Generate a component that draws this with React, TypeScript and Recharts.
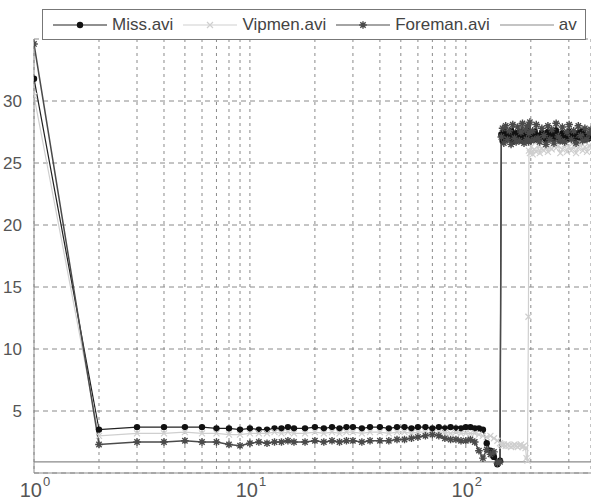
import React from "react";
import { CartesianGrid, Line, LineChart, XAxis, YAxis } from "recharts";

// frame index (log x axis)
const FRAMES = [
  1, 2, 3, 4, 5, 6, 7, 8, 9, 10, 11, 12, 13, 14, 15, 16,
  18, 20, 22, 24, 26, 28, 30,
  33, 36, 40, 44, 48, 52, 56, 60,
  65, 70, 75, 80, 85, 90, 95, 100,
  105, 110, 115, 120, 125, 130, 135, 140, 144,
  146, 148, 150, 153, 156, 159, 162, 165, 168, 171,
  174, 177, 180, 183, 186, 189, 191, 193, 195, 196,
  198, 201, 204, 208, 212, 216, 220, 225, 230, 235,
  240, 245, 250, 256, 262, 268, 274, 280, 287, 294,
  301, 308, 316, 324, 332, 340, 348, 356, 364, 372, 380,
];

const MISS = [
  31.8, 3.5, 3.7, 3.7, 3.7, 3.7, 3.6, 3.6, 3.5, 3.6, 3.5, 3.5, 3.6, 3.6, 3.7, 3.6,
  3.6, 3.7, 3.6, 3.7, 3.6, 3.7, 3.7,
  3.6, 3.7, 3.7, 3.6, 3.7, 3.7, 3.6, 3.7,
  3.7, 3.6, 3.7, 3.6, 3.7, 3.6, 3.6, 3.7,
  3.7, 3.6, 3.6, 3.5, 2.4, 1.8, 1.3, 0.7, 1.0,
  27.3, 26.8, 27.5, 26.9, 27.3, 27.0, 27.6, 26.7, 27.2, 27.4,
  26.9, 27.1, 27.5, 26.8, 27.3, 27.0, 27.6, 26.9, 27.2, 27.4,
  26.8, 27.3, 27.1, 27.5, 26.9, 27.2, 27.0, 27.4, 27.1, 26.8,
  27.5, 27.0, 27.3, 26.9, 27.6, 27.1, 26.8, 27.4, 27.2, 26.9,
  27.5, 27.0, 27.3, 26.8, 27.4, 27.1, 27.6, 26.9, 27.2, 27.0, 27.3,
];

const VIPMEN = [
  30.4, 3.0, 3.2, 3.2, 3.3, 3.2, 3.2, 3.1, 3.1, 3.2, 3.2, 3.2, 3.3, 3.2, 3.3, 3.2,
  3.2, 3.3, 3.2, 3.3, 3.2, 3.3, 3.3,
  3.2, 3.3, 3.3, 3.2, 3.3, 3.3, 3.2, 3.3,
  3.3, 3.2, 3.3, 3.3, 3.2, 3.3, 3.2, 3.2,
  3.2, 3.2, 3.1, 3.0, 2.9, 3.0, 2.8, 2.6, 2.4,
  2.3, 2.2, 2.3, 2.2, 2.3, 2.2, 2.1, 2.2, 2.3, 2.2,
  2.1, 2.2, 2.3, 2.1, 2.2, 2.0, 1.2, 1.0, 12.6, 26.0,
  25.8, 26.3, 25.7, 26.1, 25.9, 26.4, 25.8, 26.2, 26.0, 26.5,
  25.9, 26.3, 26.1, 26.6, 26.2, 26.4, 25.8, 26.1, 26.5, 25.9,
  26.3, 26.0, 26.4, 25.8, 26.2, 26.6, 26.0, 26.3, 25.9, 26.4, 26.2,
];

const FOREMAN = [
  34.6, 2.3, 2.5, 2.5, 2.6, 2.5, 2.5, 2.3, 2.2, 2.4, 2.5, 2.4, 2.5, 2.5, 2.6, 2.5,
  2.5, 2.6, 2.5, 2.6, 2.5, 2.6, 2.6,
  2.5, 2.6, 2.6, 2.6, 2.7, 2.7, 2.8, 2.9,
  3.0, 3.1, 3.0, 2.8, 2.7, 2.7, 2.6, 2.6,
  2.7, 2.5, 1.8, 1.2, 1.9, 1.5, 1.7, 0.8, 0.9,
  27.1, 27.8, 26.6, 28.0, 26.9, 27.6, 26.5, 28.1, 27.0, 26.7,
  27.9, 26.8, 27.5, 28.2, 26.6, 27.7, 26.9, 28.0, 26.7, 27.4,
  28.3, 26.8, 27.6, 26.9, 28.1, 27.0, 26.7, 27.8, 27.2, 26.5,
  28.0, 26.9, 27.7, 26.6, 28.2, 27.1, 26.8, 27.9, 26.7, 27.5,
  28.1, 26.9, 27.6, 26.6, 28.0, 27.2, 26.8, 27.8, 26.9, 27.4, 27.7,
];

const AV_FRAMES = [1, 380];
const AV = [0.9, 0.9];

const X_GRID = [1, 2, 3, 4, 5, 6, 7, 8, 9, 10, 20, 30, 40, 50, 60, 70, 80, 90, 100, 200, 300];
const X_LABELS: Record<number, string> = { 1: "0", 10: "1", 100: "2" };
const Y_TICKS = [5, 10, 15, 20, 25, 30];

const FONT = '"Liberation Sans", Arial, sans-serif';

const toRows = (xs: number[], ys: number[]) => xs.map((x, i) => ({ x, y: ys[i] }));

const Dot = ({ cx, cy }: any) => <circle cx={cx} cy={cy} r={3.2} fill="#111" />;

const Cross = ({ cx, cy, color, s = 3 }: any) => (
  <path d={`M${cx - s},${cy - s}L${cx + s},${cy + s}M${cx - s},${cy + s}L${cx + s},${cy - s}`} stroke={color} strokeWidth={1.2} />
);

const Star = ({ cx, cy, color, s = 3.8 }: any) => (
  <path
    d={`M${cx - s},${cy}L${cx + s},${cy}M${cx},${cy - s}L${cx},${cy + s}M${cx - s * 0.7},${cy - s * 0.7}L${cx + s * 0.7},${cy + s * 0.7}M${cx - s * 0.7},${cy + s * 0.7}L${cx + s * 0.7},${cy - s * 0.7}`}
    stroke={color}
    strokeWidth={1.4}
  />
);

const SERIES = [
  { name: "Miss.avi", data: toRows(FRAMES, MISS), color: "#222", marker: "dot", width: 1.2 },
  { name: "Vipmen.avi", data: toRows(FRAMES, VIPMEN), color: "#cfcfcf", marker: "cross", width: 1.2 },
  { name: "Foreman.avi", data: toRows(FRAMES, FOREMAN), color: "#4a4a4a", marker: "star", width: 1.5 },
  { name: "av", data: toRows(AV_FRAMES, AV), color: "#8a8a8a", marker: "none", width: 1.2 },
];

function marker(kind: string, color: string) {
  if (kind === "none") return false;
  return (p: any) => {
    const k = `m-${p.index}`;
    if (kind === "dot") return <Dot key={k} cx={p.cx} cy={p.cy} />;
    if (kind === "cross") return <Cross key={k} cx={p.cx} cy={p.cy} color={color} />;
    return <Star key={k} cx={p.cx} cy={p.cy} color={color} />;
  };
}

const XTick = ({ x, y, payload }: any) => {
  const exp = X_LABELS[payload.value];
  if (exp === undefined) return null;
  return (
    <g fontFamily={FONT} fill="#555">
      <text x={x + 8} y={y + 16} textAnchor="end" fontSize={20}>
        10
      </text>
      <text x={x + 9} y={y + 5} textAnchor="start" fontSize={13}>
        {exp}
      </text>
    </g>
  );
};

const LegendBox = () => (
  <div
    style={{
      position: "absolute",
      left: 42,
      top: 9,
      width: 544,
      height: 31,
      border: "1px solid #777",
      background: "#fff",
      display: "flex",
      alignItems: "center",
      paddingLeft: 10,
      boxSizing: "border-box",
      fontFamily: FONT,
      fontSize: 17,
      color: "#444",
      whiteSpace: "nowrap",
    }}
  >
    {SERIES.map((s) => (
      <div key={s.name} style={{ display: "flex", alignItems: "center", marginRight: 10 }}>
        <svg width={54} height={14} style={{ marginRight: 5 }}>
          <line x1={0} y1={7} x2={54} y2={7} stroke={s.color} strokeWidth={1.2} />
          {s.marker === "dot" && <Dot cx={27} cy={7} />}
          {s.marker === "cross" && <Cross cx={27} cy={7} color={s.color} />}
          {s.marker === "star" && <Star cx={27} cy={7} color={s.color} />}
        </svg>
        <span>{s.name}</span>
      </div>
    ))}
  </div>
);

export default function App() {
  return (
    <div style={{ position: "absolute", left: 0, top: 0, width: 591, height: 504, background: "#fff" }}>
      <LineChart width={591} height={504} margin={{ top: 39, right: 0, bottom: 0, left: 0 }}>
        <CartesianGrid horizontal={false} stroke="#8a8a8a" strokeDasharray="3 4" />
        <CartesianGrid vertical={false} stroke="#8a8a8a" strokeDasharray="5 4" />
        <XAxis
          type="number"
          dataKey="x"
          scale="log"
          domain={[1, 380]}
          allowDataOverflow
          ticks={X_GRID}
          interval={0}
          tick={<XTick />}
          tickLine={false}
          axisLine={{ stroke: "#8a8a8a" }}
          height={31}
        />
        <YAxis
          type="number"
          domain={[0, 35]}
          ticks={Y_TICKS}
          interval={0}
          tickLine={false}
          axisLine={{ stroke: "#8a8a8a" }}
          width={34}
          tickMargin={6}
          tick={{ fill: "#555", fontSize: 17, fontFamily: FONT }}
        />
        {SERIES.map((s) => (
          <Line
            key={s.name}
            data={s.data}
            dataKey="y"
            name={s.name}
            stroke={s.color}
            strokeWidth={s.width}
            dot={marker(s.marker, s.color) as any}
            activeDot={false}
            isAnimationActive={false}
          />
        ))}
      </LineChart>
      <LegendBox />
    </div>
  );
}
